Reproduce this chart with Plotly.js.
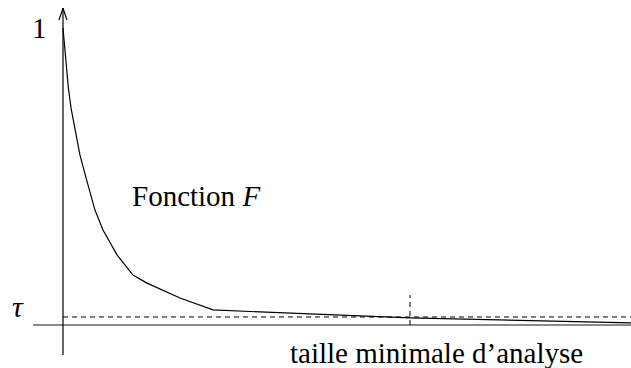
<!DOCTYPE html>
<html><head><meta charset="utf-8">
<script src="https://cdn.plot.ly/plotly-3.0.1.min.js"></script>
<style>html,body{margin:0;padding:0;background:#fff}#c{width:631px;height:368px}
#c text{font-family:"Liberation Serif","Times New Roman",serif !important}</style>
</head><body><div id="c"></div>
<script>
// Curve F (x in arbitrary units, y normalised so that F(0)=1)
const xF = [0, 0.023, 0.053, 0.093, 0.141, 0.211, 0.299, 0.417, 0.563, 0.704, 0.951, 1.232, 1.479, 2.060, 2.641, 3.468, 6.109, 10];
const yF = [1.0, 0.949, 0.892, 0.801, 0.731, 0.657, 0.572, 0.488, 0.387, 0.320, 0.236, 0.168, 0.141, 0.091, 0.051, 0.044, 0.024, 0.007];
const tau = 0.027;
const xMin = 6.109; // taille minimale d'analyse
const labels = {one: "1", tau: "τ", curve: "Fonction <i>F</i>", xlab: "taille minimale d’analyse"};

const data = [{x: xF, y: yF, mode: "lines", line: {color: "#000", width: 1.2}}];
const layout = {
  width: 631, height: 368, margin: {l: 0, r: 0, t: 0, b: 0},
  showlegend: false,
  font: {family: "Liberation Serif", color: "#000"},
  xaxis: {range: [-1.109, 10], visible: false},
  yaxis: {range: [-0.1448, 1.0943], visible: false},
  shapes: [
    {type: "line", x0: -0.528, x1: 10, y0: 0, y1: 0, line: {color: "#8a8a8a", width: 2}},
    {type: "line", x0: 0, x1: 10, y0: tau, y1: tau, line: {color: "#000", width: 1, dash: "5px,4px"}},
    {type: "line", x0: xMin, x1: xMin, y0: 0, y1: 0.101, line: {color: "#000", width: 1, dash: "5px,4px"}},
    {type: "line", x0: 0, x1: 0, y0: -0.101, y1: 1.067, line: {color: "#000", width: 1.2}},
    {type: "line", x0: -0.07, x1: 0, y0: 1.027, y1: 1.067, line: {color: "#000", width: 1.2}},
    {type: "line", x0: 0.07, x1: 0, y0: 1.027, y1: 1.067, line: {color: "#000", width: 1.2}}
  ],
  annotations: [
    {x: -0.405, y: 1.0, text: labels.one, showarrow: false, font: {family: "Liberation Serif", size: 29, color: "#000"}},
    {x: -0.8, y: tau + 0.035, text: "<i>" + labels.tau + "</i>", showarrow: false, font: {family: "Liberation Serif", size: 30, color: "#000"}},
    {x: 2.34, y: 0.434, text: labels.curve, showarrow: false, font: {family: "Liberation Serif", size: 29, color: "#000"}},
    {x: 6.567, y: -0.094, text: labels.xlab, showarrow: false, font: {family: "Liberation Serif", size: 29, color: "#000"}}
  ]
};
Plotly.newPlot("c", data, layout, {staticPlot: true});
</script></body></html>
